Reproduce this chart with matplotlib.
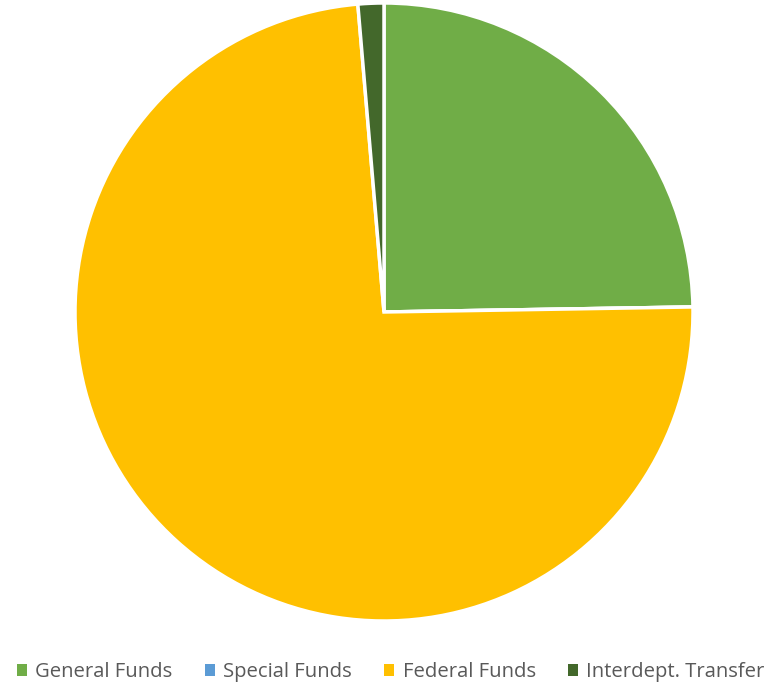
import matplotlib.pyplot as plt
from matplotlib.patches import Patch

# доли источников финансирования, %
labels = ['General Funds', 'Special Funds', 'Federal Funds', 'Interdept. Transfer']
values = [24.74, 0.0, 73.91, 1.35]
colors = ['#70AD47', '#5B9BD5', '#FFC000', '#43682B']

fig = plt.figure(figsize=(7.77, 6.84), dpi=100)
W, H = 777, 684
cx, cy, r = 384, 312, 309
ax = fig.add_axes([(cx - r) / W, (H - cy - r) / H, 2 * r / W, 2 * r / H])

ax.pie(values, colors=colors, startangle=90, counterclock=False,
       wedgeprops=dict(edgecolor='white', linewidth=2.5))
ax.set_xlim(-1, 1)
ax.set_ylim(-1, 1)
ax.set_aspect('equal')

handles = [Patch(facecolor=c, edgecolor='none') for c in colors]
fig.legend(handles, labels, loc='center', bbox_to_anchor=(0.503, 1 - 672 / H),
           ncol=4, frameon=False, handlelength=0.5, handleheight=0.5,
           handletextpad=0.4, columnspacing=1.6,
           prop={'family': 'Open Sans', 'size': 14.6}, labelcolor='#595959')

fig.savefig('out.png', dpi=100)
